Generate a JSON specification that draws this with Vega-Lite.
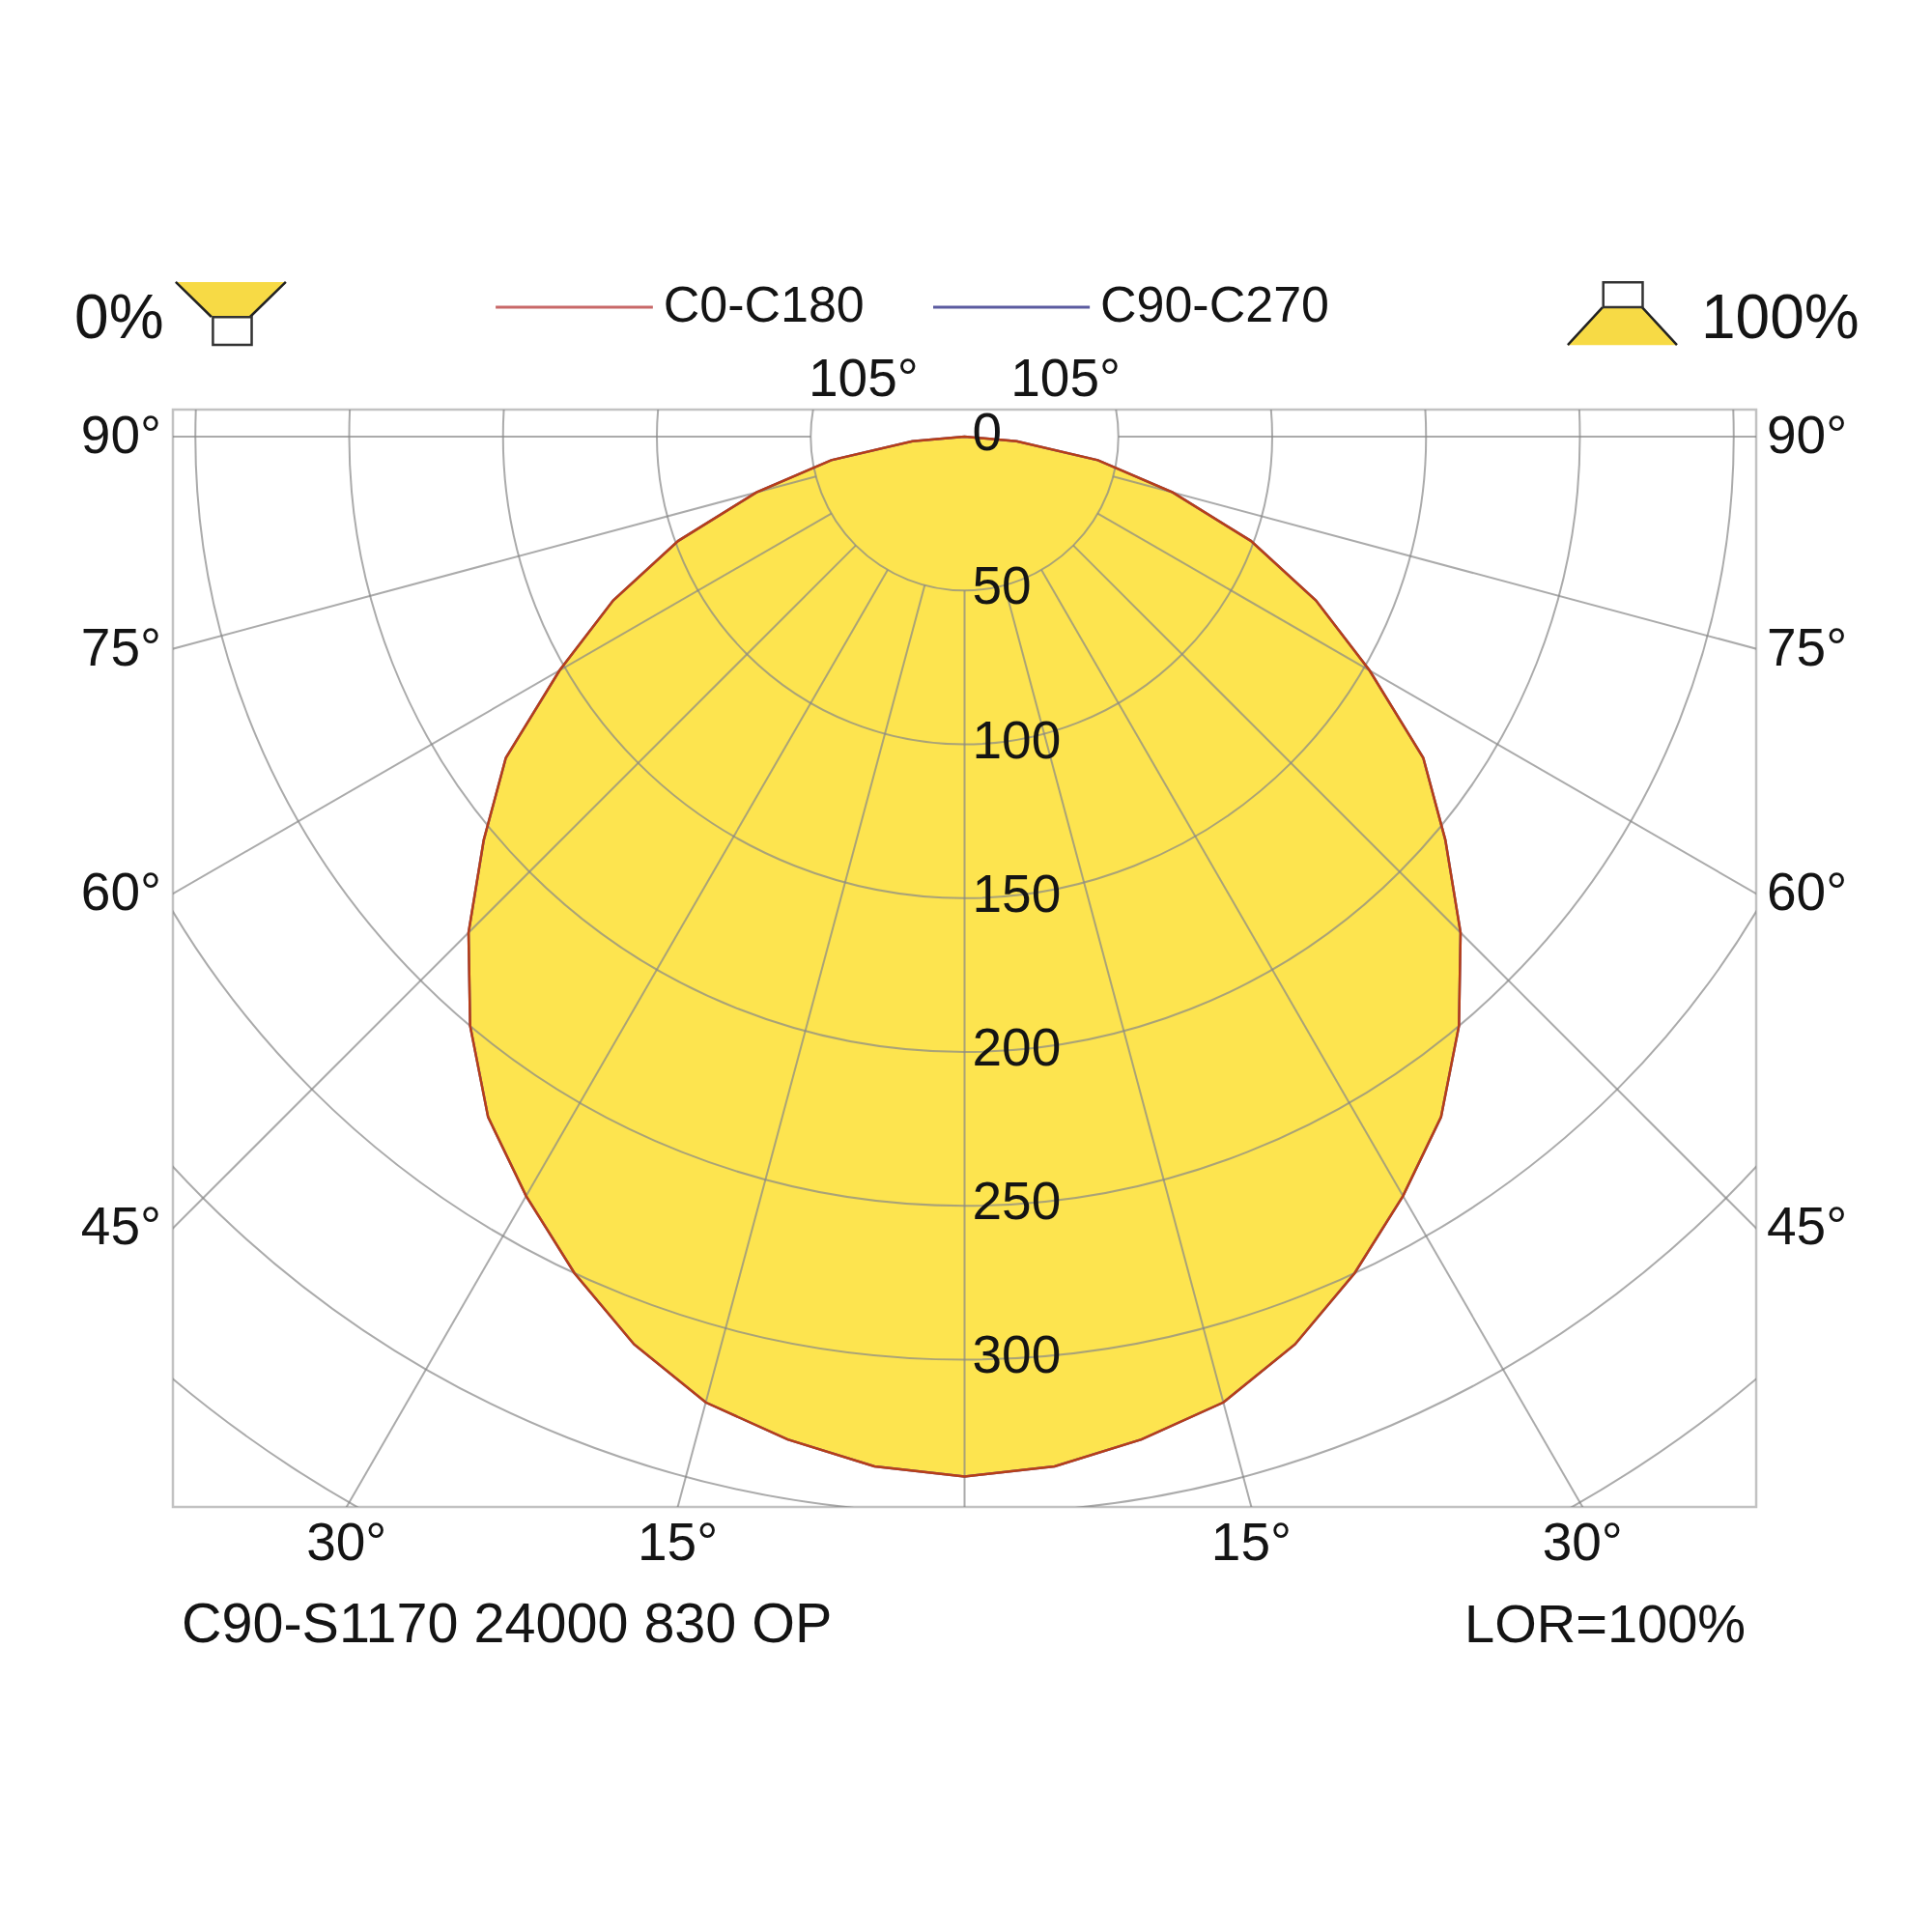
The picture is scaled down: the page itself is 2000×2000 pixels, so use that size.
{
"$schema": "https://vega.github.io/schema/vega-lite/v6.json",
"width": 1639, "height": 1136,
"autosize": {"type": "none"},
"padding": {"left": 179, "top": 424, "right": 182, "bottom": 440},
"background": "white",
"config": {"font": "Liberation Sans", "view": {"stroke": "#c2c2c2", "strokeWidth": 2.5}, "text": {"color": "#141414"}},
"datasets": {
 "lid": [
  {"plane":"C0-C180","g":-90,"I":0},{"plane":"C0-C180","g":-85,"I":17},{"plane":"C0-C180","g":-80,"I":44},{"plane":"C0-C180","g":-75,"I":70},{"plane":"C0-C180","g":-70,"I":99},{"plane":"C0-C180","g":-65,"I":126},{"plane":"C0-C180","g":-60,"I":152},{"plane":"C0-C180","g":-55,"I":182},{"plane":"C0-C180","g":-50,"I":204},{"plane":"C0-C180","g":-45,"I":228},{"plane":"C0-C180","g":-40,"I":250},{"plane":"C0-C180","g":-35,"I":270},{"plane":"C0-C180","g":-30,"I":285},{"plane":"C0-C180","g":-25,"I":300},{"plane":"C0-C180","g":-20,"I":314},{"plane":"C0-C180","g":-15,"I":325},{"plane":"C0-C180","g":-10,"I":331},{"plane":"C0-C180","g":-5,"I":336},{"plane":"C0-C180","g":0,"I":338},{"plane":"C0-C180","g":5,"I":336},{"plane":"C0-C180","g":10,"I":331},{"plane":"C0-C180","g":15,"I":325},{"plane":"C0-C180","g":20,"I":314},{"plane":"C0-C180","g":25,"I":300},{"plane":"C0-C180","g":30,"I":285},{"plane":"C0-C180","g":35,"I":270},{"plane":"C0-C180","g":40,"I":250},{"plane":"C0-C180","g":45,"I":228},{"plane":"C0-C180","g":50,"I":204},{"plane":"C0-C180","g":55,"I":182},{"plane":"C0-C180","g":60,"I":152},{"plane":"C0-C180","g":65,"I":126},{"plane":"C0-C180","g":70,"I":99},{"plane":"C0-C180","g":75,"I":70},{"plane":"C0-C180","g":80,"I":44},{"plane":"C0-C180","g":85,"I":17},{"plane":"C0-C180","g":90,"I":0},
  {"plane":"C90-C270","g":-90,"I":0},{"plane":"C90-C270","g":-85,"I":17},{"plane":"C90-C270","g":-80,"I":44},{"plane":"C90-C270","g":-75,"I":70},{"plane":"C90-C270","g":-70,"I":99},{"plane":"C90-C270","g":-65,"I":126},{"plane":"C90-C270","g":-60,"I":152},{"plane":"C90-C270","g":-55,"I":182},{"plane":"C90-C270","g":-50,"I":204},{"plane":"C90-C270","g":-45,"I":228},{"plane":"C90-C270","g":-40,"I":250},{"plane":"C90-C270","g":-35,"I":270},{"plane":"C90-C270","g":-30,"I":285},{"plane":"C90-C270","g":-25,"I":300},{"plane":"C90-C270","g":-20,"I":314},{"plane":"C90-C270","g":-15,"I":325},{"plane":"C90-C270","g":-10,"I":331},{"plane":"C90-C270","g":-5,"I":336},{"plane":"C90-C270","g":0,"I":338},{"plane":"C90-C270","g":5,"I":336},{"plane":"C90-C270","g":10,"I":331},{"plane":"C90-C270","g":15,"I":325},{"plane":"C90-C270","g":20,"I":314},{"plane":"C90-C270","g":25,"I":300},{"plane":"C90-C270","g":30,"I":285},{"plane":"C90-C270","g":35,"I":270},{"plane":"C90-C270","g":40,"I":250},{"plane":"C90-C270","g":45,"I":228},{"plane":"C90-C270","g":50,"I":204},{"plane":"C90-C270","g":55,"I":182},{"plane":"C90-C270","g":60,"I":152},{"plane":"C90-C270","g":65,"I":126},{"plane":"C90-C270","g":70,"I":99},{"plane":"C90-C270","g":75,"I":70},{"plane":"C90-C270","g":80,"I":44},{"plane":"C90-C270","g":85,"I":17},{"plane":"C90-C270","g":90,"I":0}
 ],
 "rings": [{"r":50},{"r":100},{"r":150},{"r":200},{"r":250},{"r":300},{"r":350},{"r":400}],
 "spokes": [{"a":-105},{"a":-90},{"a":-75},{"a":-60},{"a":-45},{"a":-30},{"a":-15},{"a":0},{"a":15},{"a":30},{"a":45},{"a":60},{"a":75},{"a":90},{"a":105}],
 "angleLabels": [{"a":-105,"label":"105°"},{"a":105,"label":"105°"},{"a":-90,"label":"90°"},{"a":90,"label":"90°"},{"a":-75,"label":"75°"},{"a":75,"label":"75°"},{"a":-60,"label":"60°"},{"a":60,"label":"60°"},{"a":-45,"label":"45°"},{"a":45,"label":"45°"},{"a":-30,"label":"30°"},{"a":30,"label":"30°"},{"a":-15,"label":"15°"},{"a":15,"label":"15°"}],
 "ringLabels": [{"r":0,"label":"0"},{"r":50,"label":"50"},{"r":100,"label":"100"},{"r":150,"label":"150"},{"r":200,"label":"200"},{"r":250,"label":"250"},{"r":300,"label":"300"}]
},
"layer": [
 {
  "data": {"name": "lid"},
  "transform": [
   {"filter": "datum.plane == 'C0-C180'"},
   {"calculate": "datum.I*sin(datum.g*PI/180)", "as": "px"},
   {"calculate": "-datum.I*cos(datum.g*PI/180)", "as": "py"}
  ],
  "mark": {"type": "line", "filled": true, "color": "#fde44f", "interpolate": "linear-closed"},
  "encoding": {
   "x": {"field": "px", "type": "quantitative", "scale": {"domain": [-257.3, 257.3], "nice": false, "zero": false}, "axis": null},
   "y": {"field": "py", "type": "quantitative", "scale": {"domain": [-347.9, 8.8], "nice": false, "zero": false}, "axis": null},
   "order": {"field": "g", "type": "quantitative"}
  }
 },
 {
  "data": {"name": "rings"},
  "mark": {"type": "point", "shape": "circle", "filled": false, "color": "#888888", "opacity": 0.7, "strokeWidth": 2, "clip": true},
  "encoding": {
   "x": {"datum": 0, "type": "quantitative", "scale": {"domain": [-257.3, 257.3], "nice": false, "zero": false}, "axis": null},
   "y": {"datum": 0, "type": "quantitative", "scale": {"domain": [-347.9, 8.8], "nice": false, "zero": false}, "axis": null},
   "size": {"field": "r", "type": "quantitative", "scale": {"type": "pow", "exponent": 2, "domain": [0, 400], "range": [0, 6492304]}, "legend": null}
  }
 },
 {
  "data": {"name": "spokes"},
  "transform": [
   {"calculate": "50*sin(datum.a*PI/180)", "as": "x1"},
   {"calculate": "-50*cos(datum.a*PI/180)", "as": "y1"},
   {"calculate": "700*sin(datum.a*PI/180)", "as": "x2"},
   {"calculate": "-700*cos(datum.a*PI/180)", "as": "y2"}
  ],
  "mark": {"type": "rule", "color": "#888888", "opacity": 0.7, "strokeWidth": 2, "clip": true},
  "encoding": {
   "x": {"field": "x1", "type": "quantitative", "scale": {"domain": [-257.3, 257.3], "nice": false, "zero": false}, "axis": null},
   "y": {"field": "y1", "type": "quantitative", "scale": {"domain": [-347.9, 8.8], "nice": false, "zero": false}, "axis": null},
   "x2": {"field": "x2"},
   "y2": {"field": "y2"}
  }
 },
 {
  "data": {"name": "lid"},
  "transform": [
   {"filter": "datum.plane == 'C90-C270'"},
   {"calculate": "datum.I*sin(datum.g*PI/180)", "as": "px"},
   {"calculate": "-datum.I*cos(datum.g*PI/180)", "as": "py"}
  ],
  "mark": {"type": "line", "color": "#5b5ba6", "strokeWidth": 2.5, "interpolate": "linear-closed"},
  "encoding": {
   "x": {"field": "px", "type": "quantitative", "scale": {"domain": [-257.3, 257.3], "nice": false, "zero": false}, "axis": null},
   "y": {"field": "py", "type": "quantitative", "scale": {"domain": [-347.9, 8.8], "nice": false, "zero": false}, "axis": null},
   "order": {"field": "g", "type": "quantitative"}
  }
 },
 {
  "data": {"name": "lid"},
  "transform": [
   {"filter": "datum.plane == 'C0-C180'"},
   {"calculate": "datum.I*sin(datum.g*PI/180)", "as": "px"},
   {"calculate": "-datum.I*cos(datum.g*PI/180)", "as": "py"}
  ],
  "mark": {"type": "line", "color": "#b83e18", "strokeWidth": 2.5, "interpolate": "linear-closed"},
  "encoding": {
   "x": {"field": "px", "type": "quantitative", "scale": {"domain": [-257.3, 257.3], "nice": false, "zero": false}, "axis": null},
   "y": {"field": "py", "type": "quantitative", "scale": {"domain": [-347.9, 8.8], "nice": false, "zero": false}, "axis": null},
   "order": {"field": "g", "type": "quantitative"}
  }
 },
 {
  "data": {"name": "ringLabels"},
  "transform": [{"calculate": "-datum.r", "as": "ny"}],
  "mark": {"type": "text", "align": "left", "baseline": "middle", "dx": 8, "dy": -3, "fontSize": 55},
  "encoding": {
   "x": {"datum": 0, "type": "quantitative", "scale": {"domain": [-257.3, 257.3], "nice": false, "zero": false}, "axis": null},
   "y": {"field": "ny", "type": "quantitative", "scale": {"domain": [-347.9, 8.8], "nice": false, "zero": false}, "axis": null},
   "text": {"field": "label"}
  }
 },
 {
  "data": {"name": "angleLabels"},
  "transform": [
   {"calculate": "sin(abs(datum.a)*PI/180)", "as": "s"},
   {"calculate": "cos(datum.a*PI/180)", "as": "c"},
   {"calculate": "datum.s > 1e-6 ? 257.3/datum.s : 1e9", "as": "tx"},
   {"calculate": "datum.c > 1e-6 ? 347.9/datum.c : (datum.c < -1e-6 ? 8.8/(-datum.c) : 1e9)", "as": "ty"},
   {"calculate": "min(datum.tx, datum.ty)", "as": "t"},
   {"calculate": "(datum.a < 0 ? -1 : 1)*datum.t*datum.s", "as": "lx"},
   {"calculate": "-datum.t*datum.c", "as": "ly"},
   {"calculate": "datum.tx <= datum.ty ? (datum.a < 0 ? 'L' : 'R') : (datum.c > 0 ? 'B' : 'T')", "as": "edge"}
  ],
  "encoding": {
   "x": {"field": "lx", "type": "quantitative", "scale": {"domain": [-257.3, 257.3], "nice": false, "zero": false}, "axis": null},
   "y": {"field": "ly", "type": "quantitative", "scale": {"domain": [-347.9, 8.8], "nice": false, "zero": false}, "axis": null},
   "text": {"field": "label"}
  },
  "layer": [
   {"transform": [{"filter": "datum.edge == 'L'"}], "mark": {"type": "text", "align": "right", "baseline": "middle", "dx": -12, "fontSize": 55}},
   {"transform": [{"filter": "datum.edge == 'R'"}], "mark": {"type": "text", "align": "left", "baseline": "middle", "dx": 11, "fontSize": 55}},
   {"transform": [{"filter": "datum.edge == 'B'"}], "mark": {"type": "text", "align": "center", "baseline": "middle", "dy": 38, "fontSize": 55}},
   {"transform": [{"filter": "datum.edge == 'T'"}], "mark": {"type": "text", "align": "center", "baseline": "middle", "dy": -31, "fontSize": 55}}
  ]
 },
 {
  "data": {"values": [{"t": "0%"}]},
  "mark": {"type": "text", "align": "left", "baseline": "alphabetic", "fontSize": 64},
  "encoding": {
   "x": {"datum": -289.3, "type": "quantitative", "scale": {"domain": [-257.3, 257.3], "nice": false, "zero": false}, "axis": null},
   "y": {"datum": 32.0, "type": "quantitative", "scale": {"domain": [-347.9, 8.8], "nice": false, "zero": false}, "axis": null},
   "text": {"field": "t"}
  }
 },
 {
  "data": {"values": [{"t": "100%"}]},
  "mark": {"type": "text", "align": "left", "baseline": "alphabetic", "fontSize": 64},
  "encoding": {
   "x": {"datum": 239.4, "type": "quantitative", "scale": {"domain": [-257.3, 257.3], "nice": false, "zero": false}, "axis": null},
   "y": {"datum": 32.0, "type": "quantitative", "scale": {"domain": [-347.9, 8.8], "nice": false, "zero": false}, "axis": null},
   "text": {"field": "t"}
  }
 },
 {
  "data": {"values": [{"t": "C0-C180"}]},
  "mark": {"type": "text", "align": "left", "baseline": "alphabetic", "fontSize": 52},
  "encoding": {
   "x": {"datum": -97.9, "type": "quantitative", "scale": {"domain": [-257.3, 257.3], "nice": false, "zero": false}, "axis": null},
   "y": {"datum": 37.4, "type": "quantitative", "scale": {"domain": [-347.9, 8.8], "nice": false, "zero": false}, "axis": null},
   "text": {"field": "t"}
  }
 },
 {
  "data": {"values": [{"t": "C90-C270"}]},
  "mark": {"type": "text", "align": "left", "baseline": "alphabetic", "fontSize": 52},
  "encoding": {
   "x": {"datum": 44.1, "type": "quantitative", "scale": {"domain": [-257.3, 257.3], "nice": false, "zero": false}, "axis": null},
   "y": {"datum": 37.4, "type": "quantitative", "scale": {"domain": [-347.9, 8.8], "nice": false, "zero": false}, "axis": null},
   "text": {"field": "t"}
  }
 },
 {
  "data": {"values": [{"t": "C90-S1170 24000 830 OP"}]},
  "mark": {"type": "text", "align": "left", "baseline": "alphabetic", "fontSize": 57.5},
  "encoding": {
   "x": {"datum": -254.5, "type": "quantitative", "scale": {"domain": [-257.3, 257.3], "nice": false, "zero": false}, "axis": null},
   "y": {"datum": -391.8, "type": "quantitative", "scale": {"domain": [-347.9, 8.8], "nice": false, "zero": false}, "axis": null},
   "text": {"field": "t"}
  }
 },
 {
  "data": {"values": [{"t": "LOR=100%"}]},
  "mark": {"type": "text", "align": "right", "baseline": "alphabetic", "fontSize": 56},
  "encoding": {
   "x": {"datum": 253.9, "type": "quantitative", "scale": {"domain": [-257.3, 257.3], "nice": false, "zero": false}, "axis": null},
   "y": {"datum": -391.8, "type": "quantitative", "scale": {"domain": [-347.9, 8.8], "nice": false, "zero": false}, "axis": null},
   "text": {"field": "t"}
  }
 },
 {
  "data": {"values": [{"plane": "C0-C180"}]},
  "mark": {"type": "rule", "color": "#c86868", "strokeWidth": 3},
  "encoding": {
   "x": {"datum": -152.4, "type": "quantitative", "scale": {"domain": [-257.3, 257.3], "nice": false, "zero": false}, "axis": null},
   "x2": {"datum": -101.3},
   "y": {"datum": 42.1, "type": "quantitative", "scale": {"domain": [-347.9, 8.8], "nice": false, "zero": false}, "axis": null}
  }
 },
 {
  "data": {"values": [{"plane": "C90-C270"}]},
  "mark": {"type": "rule", "color": "#5b5ba0", "strokeWidth": 3},
  "encoding": {
   "x": {"datum": -10.2, "type": "quantitative", "scale": {"domain": [-257.3, 257.3], "nice": false, "zero": false}, "axis": null},
   "x2": {"datum": 40.7},
   "y": {"datum": 42.1, "type": "quantitative", "scale": {"domain": [-347.9, 8.8], "nice": false, "zero": false}, "axis": null}
  }
 },
 {
  "data": {"values": [{"icon": "down"}]},
  "mark": {"type": "point", "shape": "M-1,-0.316L1,-0.316L0.351,0.316L-0.351,0.316Z", "size": 12996, "filled": true, "color": "#f7da45", "opacity": 1},
  "encoding": {
   "x": {"datum": -238.5, "type": "quantitative", "scale": {"domain": [-257.3, 257.3], "nice": false, "zero": false}, "axis": null},
   "y": {"datum": 44.6, "type": "quantitative", "scale": {"domain": [-347.9, 8.8], "nice": false, "zero": false}, "axis": null}
  }
 },
 {
  "data": {"values": [{"icon": "down"}]},
  "mark": {"type": "point", "shape": "M-1,-0.316L-0.351,0.316M1,-0.316L0.351,0.316", "size": 12996, "filled": false, "color": "#222222", "strokeWidth": 2.5, "opacity": 1},
  "encoding": {
   "x": {"datum": -238.5, "type": "quantitative", "scale": {"domain": [-257.3, 257.3], "nice": false, "zero": false}, "axis": null},
   "y": {"datum": 44.6, "type": "quantitative", "scale": {"domain": [-347.9, 8.8], "nice": false, "zero": false}, "axis": null}
  }
 },
 {
  "data": {"values": [{"icon": "down"}]},
  "mark": {"type": "rect", "fill": "white", "stroke": "#333333", "strokeWidth": 2.5},
  "encoding": {
   "x": {"datum": -244.3, "type": "quantitative", "scale": {"domain": [-257.3, 257.3], "nice": false, "zero": false}, "axis": null},
   "x2": {"datum": -231.7},
   "y": {"datum": 38.9, "type": "quantitative", "scale": {"domain": [-347.9, 8.8], "nice": false, "zero": false}, "axis": null},
   "y2": {"datum": 29.8}
  }
 },
 {
  "data": {"values": [{"icon": "up"}]},
  "mark": {"type": "point", "shape": "M-0.363,-0.345L0.363,-0.345L1,0.345L-1,0.345Z", "size": 12769, "filled": true, "color": "#f7da45", "opacity": 1},
  "encoding": {
   "x": {"datum": 213.8, "type": "quantitative", "scale": {"domain": [-257.3, 257.3], "nice": false, "zero": false}, "axis": null},
   "y": {"datum": 35.9, "type": "quantitative", "scale": {"domain": [-347.9, 8.8], "nice": false, "zero": false}, "axis": null}
  }
 },
 {
  "data": {"values": [{"icon": "up"}]},
  "mark": {"type": "point", "shape": "M-0.363,-0.345L-1,0.345M0.363,-0.345L1,0.345", "size": 12769, "filled": false, "color": "#222222", "strokeWidth": 2.5, "opacity": 1},
  "encoding": {
   "x": {"datum": 213.8, "type": "quantitative", "scale": {"domain": [-257.3, 257.3], "nice": false, "zero": false}, "axis": null},
   "y": {"datum": 35.9, "type": "quantitative", "scale": {"domain": [-347.9, 8.8], "nice": false, "zero": false}, "axis": null}
  }
 },
 {
  "data": {"values": [{"icon": "up"}]},
  "mark": {"type": "rect", "fill": "white", "stroke": "#333333", "strokeWidth": 2.5},
  "encoding": {
   "x": {"datum": 207.6, "type": "quantitative", "scale": {"domain": [-257.3, 257.3], "nice": false, "zero": false}, "axis": null},
   "x2": {"datum": 220.4},
   "y": {"datum": 50.2, "type": "quantitative", "scale": {"domain": [-347.9, 8.8], "nice": false, "zero": false}, "axis": null},
   "y2": {"datum": 42.1}
  }
 }
]
}
